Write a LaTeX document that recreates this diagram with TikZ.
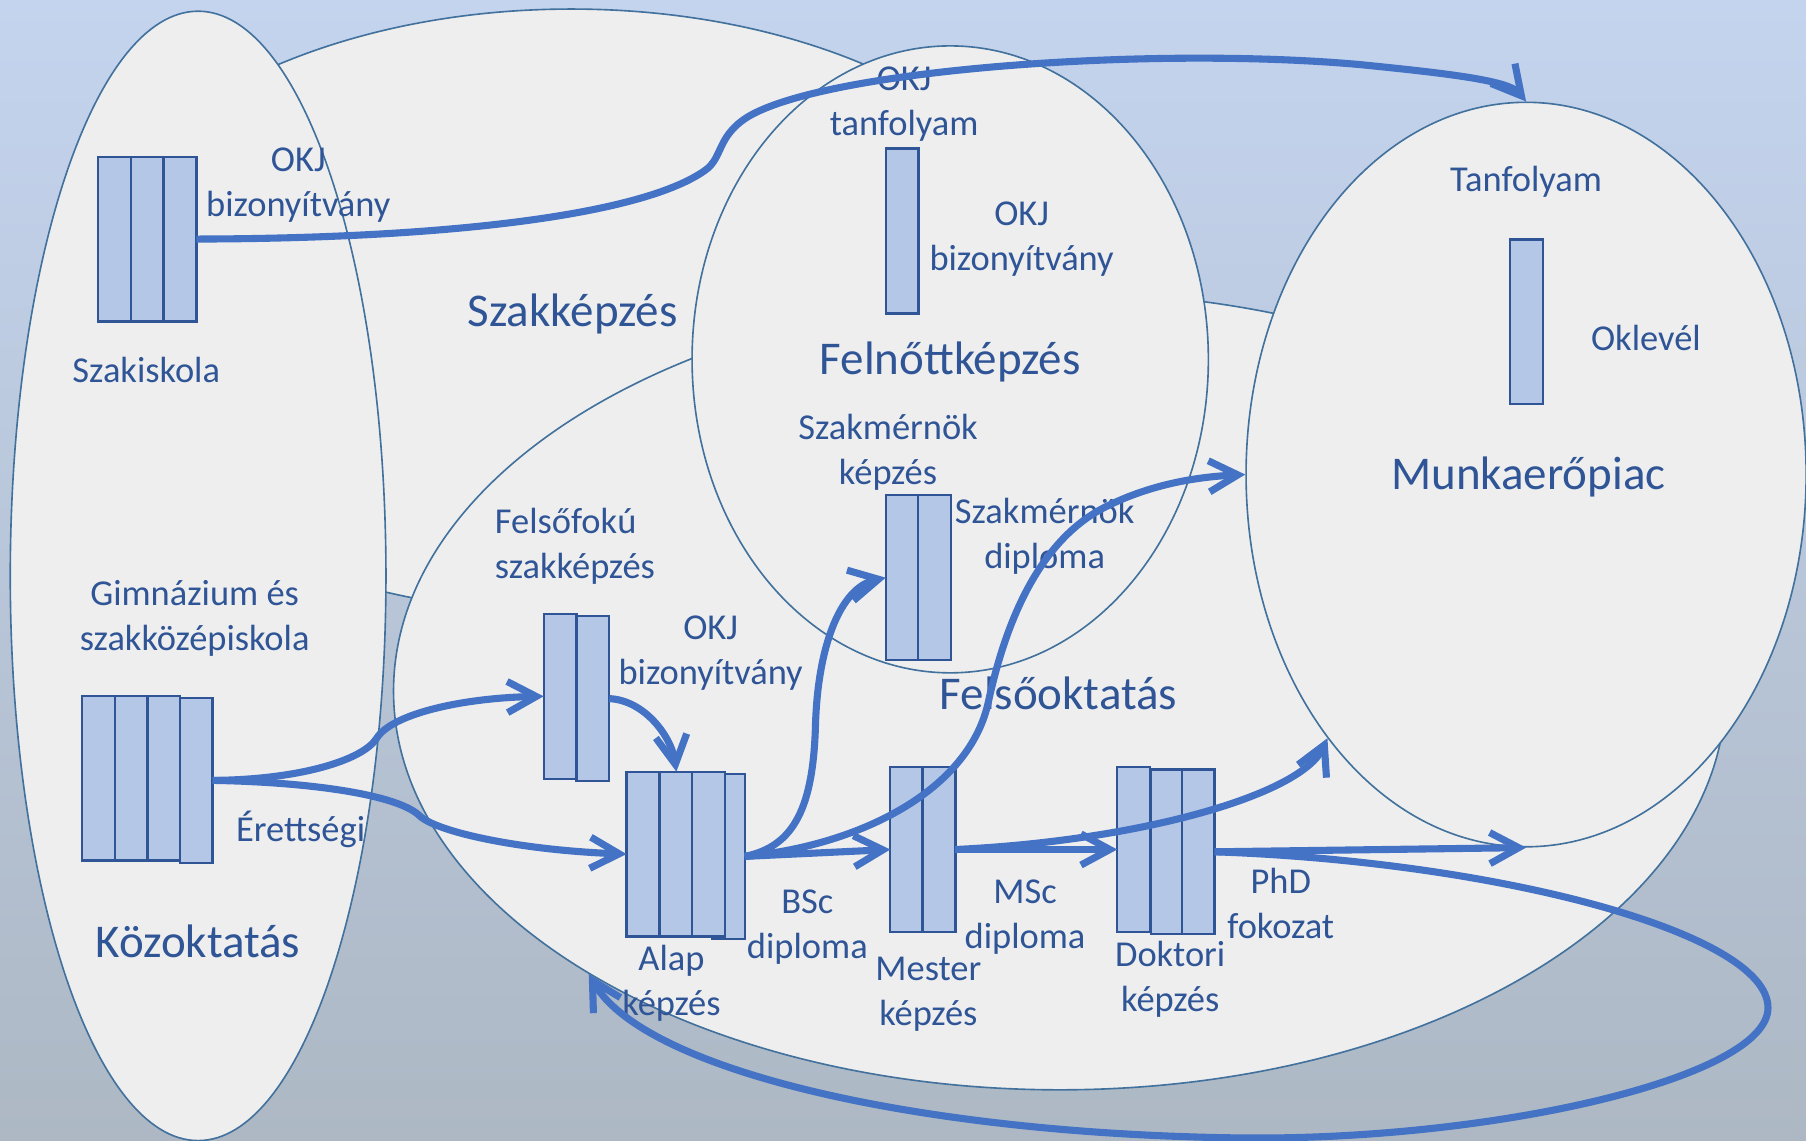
\documentclass[tikz,border=0pt]{standalone}
\usepackage{fontspec}
\setmainfont{Carlito}
\usetikzlibrary{shapes.geometric, arrows.meta}

\definecolor{zonefill}{HTML}{EEEEEE}
\definecolor{zoneline}{HTML}{41719C}
\definecolor{boxfill}{HTML}{B4C7E7}
\definecolor{boxline}{HTML}{2F5597}
\definecolor{txtblue}{HTML}{2F5597}
\definecolor{arrblue}{HTML}{4472C4}
\definecolor{bgtop}{HTML}{C4D4EE}
\definecolor{bgmid}{HTML}{DCE6F2}
\definecolor{bgbot}{HTML}{ADB8C4}

\tikzset{
  zone/.style={ellipse, draw=zoneline, line width=0.4pt, fill=zonefill, inner sep=0pt},
  col/.style={rectangle, draw=boxline, line width=0.55pt, fill=boxfill, minimum width=0.285cm,
    minimum height=1.43cm, inner sep=0pt, outer sep=0pt, anchor=north west},
  lbl/.style={text=txtblue, font=\fontsize{9}{11.1}\selectfont, align=center, inner sep=0pt},
  big/.style={text=txtblue, font=\fontsize{11.6}{14}\selectfont, inner sep=0pt},
  flow/.style={draw=arrblue, line width=1.75pt, -{Straight Barb[length=2.5mm, width=2.7mm]}}
}

\begin{document}
\begin{tikzpicture}[x=0.01cm, y=-0.01cm]

\useasboundingbox (0,0) rectangle (1568,990);
\shade[top color=bgtop, middle color=bgmid, bottom color=bgbot] (0,0) rectangle (1568,990);

% The five areas, back to front
\node[zone, minimum width=8.8cm, minimum height=5.24cm] (szakk) at (496,270) {};
\node[zone, minimum width=11.56cm, minimum height=6.92cm] (felso) at (920,600) {};
\node[zone, minimum width=4.48cm, minimum height=5.44cm] (felnott) at (825,312) {};
\node[zone, minimum width=3.26cm, minimum height=9.8cm] (kozok) at (172,500) {};
\node[zone, minimum width=4.86cm, minimum height=6.46cm] (munka) at (1325,412) {};

% Certificate columns
\foreach \i/\x in {1/85, 2/113.5, 3/142} {
  \node[col] (szi\i) at (\x,136) {};
}
\foreach \i/\x/\y in {1/71/604, 2/100/604, 3/128/604, 4/156/606} {
  \node[col] (gim\i) at (\x,\y) {};
}
\foreach \i/\x/\y in {1/472/533, 2/500.5/535} {
  \node[col] (ffk\i) at (\x,\y) {};
}
\node[col] (alap4) at (618,672) {};
\foreach \i/\x in {1/544, 2/573, 3/601} {
  \node[col] (alap\i) at (\x,670) {};
}
\foreach \i/\x in {1/769, 2/797} {
  \node[col] (szm\i) at (\x,430) {};
}
\node[col] (okj) at (769,129) {};
\node[col] (okl) at (1311,208) {};
\foreach \i/\x in {1/773, 2/801} {
  \node[col] (mes\i) at (\x,666) {};
}
\foreach \i/\x/\y in {1/970/666, 2/999/668, 3/1026/668} {
  \node[col] (dok\i) at (\x,\y) {};
}

% Area names
\node[big] (tszakk) at (497,273) {Szakképzés};
\node[big] (tfelnott) at (825,314) {Felnőttképzés};
\node[big] (tmunka) at (1327,414) {Munkaerőpiac};
\node[big] (tfelso) at (919,602) {Felsőoktatás};
\node[big] (tkozok) at (172,817) {Közoktatás};

% Labels
\node[lbl] (lszi) at (127,321) {Szakiskola};
\node[lbl] (lszicert) at (259,161) {OKJ\\bizonyítvány};
\node[lbl] (lokj) at (785,90) {OKJ\\tanfolyam};
\node[lbl] (lokjcert) at (887,208) {OKJ\\bizonyítvány};
\node[lbl] (ltanf) at (1325,158) {Tanfolyam};
\node[lbl] (lokl) at (1429,293) {Oklevél};
\node[lbl] (lszm) at (771,393) {Szakmérnök\\képzés};
\node[lbl] (lszmcert) at (907,466) {Szakmérnök\\diploma};
\node[lbl, align=left, anchor=west] (lffk) at (429,474) {Felsőfokú\\szakképzés};
\node[lbl] (lffkcert) at (617,567) {OKJ\\bizonyítvány};
\node[lbl] (lgim) at (169,537) {Gimnázium és\\szakközépiskola};
\node[lbl] (lgimcert) at (261,720) {Érettségi};
\node[lbl] (lbsc) at (701,805) {BSc\\diploma};
\node[lbl] (lalap) at (583,854) {Alap\\képzés};
\node[lbl] (lmes) at (806,863) {Mester\\képzés};
\node[lbl] (lmsc) at (890,796) {MSc\\diploma};
\node[lbl] (ldok) at (1016,850) {Doktori\\képzés};
\node[lbl] (lphd) at (1112,784) {PhD\\fokozat};

% Flows between the columns and areas
\draw[flow] (szi3.east) .. controls (400,207) and (560,185) .. (612,148)
  .. controls (628,137) and (622,118) .. (650,101)
  .. controls (720,60) and (1000,40) .. (1180,56)
  .. controls (1260,64) and (1310,70) .. (munka.north);

\draw[flow] (gim4.east) .. controls (260,677) and (315,660) .. (327,641)
  .. controls (340,620) and (400,606) .. (ffk1.west);
\draw[flow] (gim4.east) .. controls (270,679) and (345,690) .. (364,708)
  .. controls (378,722) and (450,738) .. (alap1.west);

\draw[flow] (ffk2.east) .. controls (560,608) and (583,640) .. (alap2.north);

\draw[flow] (alap4.east) .. controls (690,735) and (706,700) .. (708,630)
  .. controls (710,560) and (730,510) .. (szm1.west);
\draw[flow] (alap4.east) .. controls (740,735) and (840,690) .. (858,610)
  .. controls (872,545) and (900,470) .. (960,440)
  .. controls (1000,420) and (1040,414) .. (munka.west);
\draw[flow] (alap4.east) -- (mes1.west);

\draw[flow] (mes2.east) -- (dok1.west);
\draw[flow] (mes2.east) .. controls (990,730) and (1130,690) .. (munka.233);

\draw[flow] (dok3.east) -- (munka.south);
\draw[flow] (dok3.east) .. controls (1300,748) and (1535,810) .. (1535,875)
  .. controls (1535,935) and (1300,990) .. (1080,988)
  .. controls (800,985) and (560,930) .. (felso.211);

\end{tikzpicture}
\end{document}
